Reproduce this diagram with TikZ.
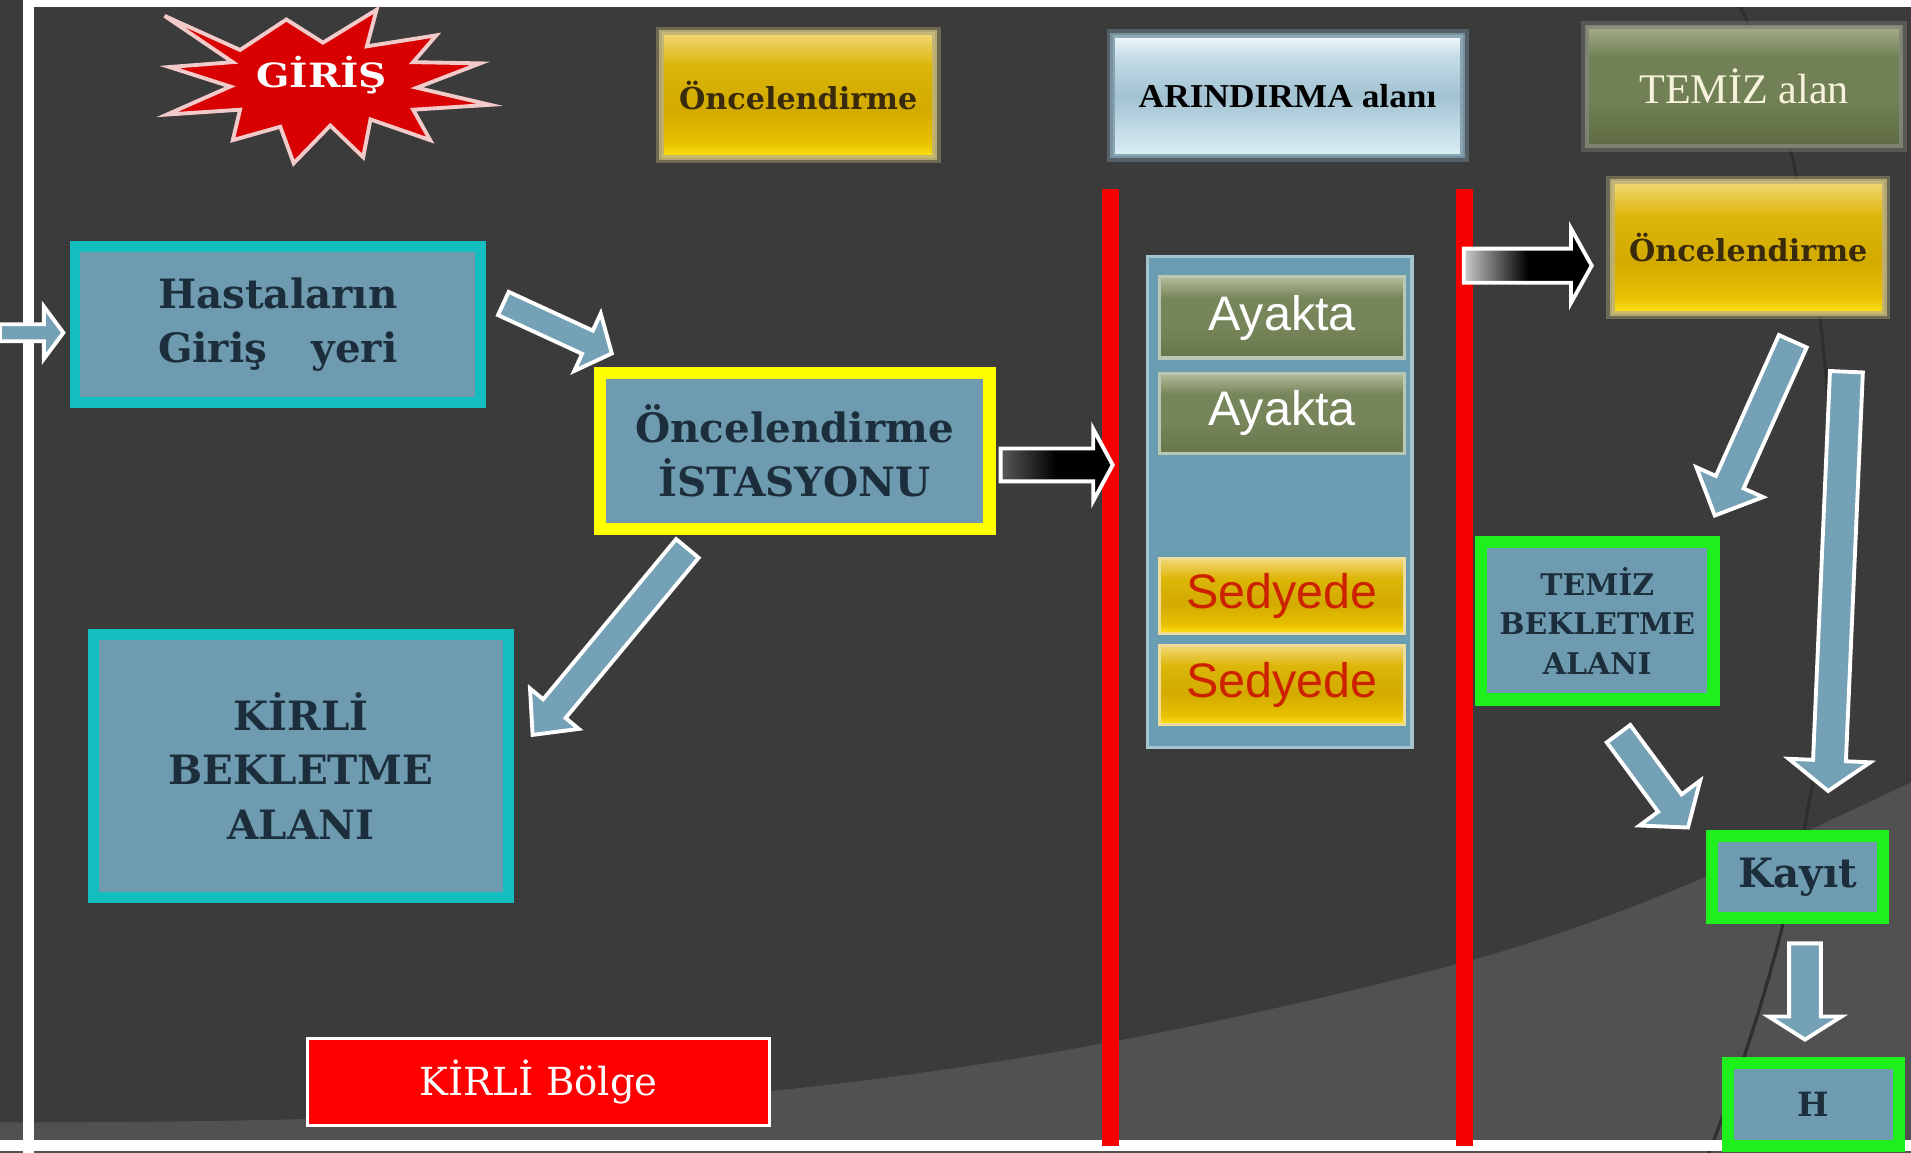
\documentclass[tikz,border=0pt]{standalone}
\usepackage{fontspec}
\usetikzlibrary{calc}
\newfontfamily\slab{DejaVu Serif}
\newfontfamily\arinf[FakeStretch=1.06]{Liberation Serif}
\newfontfamily\tnr{Liberation Serif}
\newfontfamily\arial{Liberation Sans}
\newfontfamily\girf[FakeStretch=1.17]{DejaVu Serif}
\newcommand\ovu{0.34678pt}

\definecolor{bgdark}{HTML}{3B3B3B}
\definecolor{bglight}{HTML}{515151}
\definecolor{arccol}{HTML}{2E2E2E}
\definecolor{redline}{HTML}{F50000}
\definecolor{steel}{HTML}{6E9BAF}
\definecolor{navy}{HTML}{1C2E3C}
\definecolor{cyanb}{HTML}{14BEBE}
\definecolor{yelb}{HTML}{FFFF00}
\definecolor{greenb}{HTML}{1EF01E}
\definecolor{arrowblue}{HTML}{74A1B5}
\definecolor{starred}{HTML}{D80000}
\definecolor{starrim}{HTML}{F2CACA}
\definecolor{gT}{HTML}{F2D878}
\definecolor{gU}{HTML}{DDB60A}
\definecolor{gM}{HTML}{D2AA00}
\definecolor{gL}{HTML}{E8C000}
\definecolor{gB}{HTML}{FFE41A}
\definecolor{oT}{HTML}{A3AC8A}
\definecolor{oM}{HTML}{728155}
\definecolor{oB}{HTML}{5E6B42}
\definecolor{yT}{HTML}{B3BC9B}
\definecolor{yM}{HTML}{76855A}
\definecolor{yB}{HTML}{67764B}
\definecolor{aT}{HTML}{F2FAFD}
\definecolor{aU}{HTML}{C4DCE7}
\definecolor{aM}{HTML}{A2C2D2}
\definecolor{aB}{HTML}{DCEFF6}
\definecolor{panelc}{HTML}{6A9DB2}
\definecolor{panelrim}{HTML}{A4C4D0}
\definecolor{glowy}{HTML}{BFB27A}
\definecolor{glowb}{HTML}{7E9BA8}
\definecolor{glowo}{HTML}{85887A}
\definecolor{ayrim}{HTML}{B8C8B4}
\definecolor{sedrim}{HTML}{EEDC9A}
\definecolor{sedred}{HTML}{CC2200}
\definecolor{cream}{HTML}{F6F2DC}
\definecolor{gtext}{HTML}{3A2A0C}
\definecolor{kred}{HTML}{FF0000}

\pgfdeclareverticalshading{goldsh}{100bp}{color(0bp)=(gB); color(25bp)=(gB); color(31bp)=(gL); color(45bp)=(gM); color(62bp)=(gU); color(75bp)=(gT); color(100bp)=(gT)}
\pgfdeclareverticalshading{olivesh}{100bp}{color(0bp)=(oB); color(25bp)=(oB); color(45bp)=(oM); color(62bp)=(oM); color(75bp)=(oT); color(100bp)=(oT)}
\pgfdeclareverticalshading{aysh}{100bp}{color(0bp)=(yB); color(25bp)=(yB); color(45bp)=(yM); color(62bp)=(yM); color(75bp)=(yT); color(100bp)=(yT)}
\pgfdeclareverticalshading{arinsh}{100bp}{color(0bp)=(aB); color(25bp)=(aB); color(50bp)=(aM); color(66bp)=(aU); color(75bp)=(aT); color(100bp)=(aT)}

% block arrow: [style]{tail}{tip}{shaft width}{head width}{head length}  (widths in picture units)
\newcommand\blockarrow[6][]{%
  \pgfmathsetlengthmacro\baw{#4*0.5*\ovu}%
  \pgfmathsetlengthmacro\bah{#5*0.5*\ovu}%
  \pgfmathsetlengthmacro\bal{#6*\ovu}%
  \coordinate (bac) at ($(#3)!\bal!(#2)$);%
  \path[#1] ($(#2)!\baw!90:(#3)$) -- ($(bac)!\baw!90:(#3)$) -- ($(bac)!\bah!90:(#3)$)
    -- (#3) -- ($(bac)!\bah!-90:(#3)$) -- ($(bac)!\baw!-90:(#3)$) -- ($(#2)!\baw!-90:(#3)$) -- cycle;%
}

\begin{document}
\begin{tikzpicture}[x=0.012188cm, y=-0.012188cm,
  sz/.style n args={3}{minimum width={(#1-#3)*\ovu}, minimum height={(#2-#3)*\ovu}, line width={#3*\ovu}},
  steelbox/.style={fill=steel, text=navy, align=center, inner sep=0pt},
  bigslab/.style={font=\slab\bfseries\fontsize{11.5}{15.5}\selectfont},
  goldtxt/.style={text=gtext, font=\slab\bfseries\fontsize{8.6}{10}\selectfont},
  barrow/.style={fill=arrowblue, draw=white, line width=1.1pt, line join=miter},
  blackarrow/.style={left color=#1, right color=black, middle color=black, draw=white, line width=1.1pt, line join=miter},
  glowbox/.style={inner sep=0pt, align=center, preaction={draw=#1, draw opacity=0.4, line width=10*\ovu}, draw=#1, draw opacity=0.85},
]
\useasboundingbox (0,0) rectangle (1568,946);
% background
\fill[bgdark] (0,0) rectangle (1568,946);
\fill[bglight] (0,921) .. controls (500,921) and (800,895) .. (1207,788)
  .. controls (1350,748) and (1450,697) .. (1568,642) -- (1568,946) -- (0,946) -- cycle;
\draw[arccol, line width=0.9pt] (1428,6) .. controls (1500,150) and (1525,450) .. (1483,666) .. controls (1462,780) and (1432,870) .. (1402,946);
% frame
\fill[white] (19,0) rectangle (28,946);
\fill[white] (19,0) rectangle (1568,6);
\fill[white] (0,935) rectangle (1568,944);
% red lines
\fill[redline] (904,155) rectangle (918,940);
\fill[redline] (1195,155) rectangle (1209,940);

% star
\filldraw[fill=starred, draw=starrim, line width=1.1pt, line join=miter]
  (135,13) -- (197,41) -- (235,16) -- (265,35) -- (309,8) -- (301,38) -- (358,29) -- (339,51)
  -- (394,52) -- (342,72) -- (402,86) -- (339,90) -- (353,115) -- (304,98) -- (298,129)
  -- (271,103) -- (241,134) -- (230,104) -- (191,115) -- (197,90) -- (137,94) -- (189,71)
  -- (139,55) -- (191,51) -- cycle;
\node[text=white, font=\girf\bfseries\fontsize{9.5}{11}\selectfont] (giris) at (264,62) {GİRİŞ};

% top labels
\node[glowbox=glowy, shade, shading=goldsh, sz={224}{102}{0}, line width=4*\ovu, goldtxt] (onc1) at (655,78) {Öncelendirme};
\node[glowbox=glowb, shade, shading=arinsh, sz={287}{99}{0}, line width=4*\ovu, text=black,
  font=\arinf\bfseries\fontsize{9.5}{11}\selectfont] (arin) at (1056.5,78.5) {ARINDIRMA alanı};
\node[glowbox=glowo, shade, shading=olivesh, sz={258}{98}{0}, line width=3*\ovu, text=cream,
  font=\tnr\fontsize{12}{14}\selectfont] (temiz) at (1431,71) {TEMİZ alan};
\node[glowbox=glowy, shade, shading=goldsh, sz={223}{108}{0}, line width=4*\ovu, goldtxt] (onc2) at (1434.5,203) {Öncelendirme};

% main boxes
\node[steelbox, bigslab, draw=cyanb, sz={342}{137}{9}] (hasta) at (228,266.5) {Hastaların\\Giriş\hspace{1.1em}yeri};
\node[steelbox, bigslab, draw=yelb, sz={330}{138}{10}] (ist) at (652,370) {Öncelendirme\\İSTASYONU};
\node[steelbox, bigslab, draw=cyanb, sz={350}{225}{9}] (kirli) at (247,628.5) {KİRLİ\\BEKLETME\\ALANI};
\node[steelbox, draw=greenb, sz={201}{139}{10}, font=\slab\bfseries\fontsize{8.5}{11.2}\selectfont] (temizb) at (1310.5,509.5) {TEMİZ\\BEKLETME\\ALANI};
\node[steelbox, bigslab, draw=greenb, sz={150}{77}{10}] (kayit) at (1475,719.5) {Kayıt};
\node[steelbox, draw=greenb, sz={150}{78}{10}, font=\slab\bfseries\fontsize{9.5}{11}\selectfont] (hbox) at (1488,906) {H};
\node[fill=kred, draw=white, sz={382}{74}{2.5}, text=white, inner sep=0pt,
  font=\slab\fontsize{11}{13}\selectfont] (kbolge) at (442,888) {KİRLİ Bölge};

% middle panel
\node[fill=panelc, draw=panelrim, sz={220}{406}{3}] (panel) at (1050,412) {};
\node[shade, shading=aysh, draw=ayrim, sz={204}{69}{2.5}, text=white, inner sep=0pt,
  font=\arial\fontsize{13.8}{16}\selectfont] (ay1) at (1052,260.5) {Ayakta};
\node[shade, shading=aysh, draw=ayrim, sz={204}{68}{2.5}, text=white, inner sep=0pt,
  font=\arial\fontsize{13.8}{16}\selectfont] (ay2) at (1052,339) {Ayakta};
\node[shade, shading=goldsh, draw=sedrim, sz={204}{64}{2.5}, text=sedred, inner sep=0pt,
  font=\arial\fontsize{13.8}{16}\selectfont] (se1) at (1052,489) {Sedyede};
\node[shade, shading=goldsh, draw=sedrim, sz={204}{68}{2.5}, text=sedred, inner sep=0pt,
  font=\arial\fontsize{13.8}{16}\selectfont] (se2) at (1052,562) {Sedyede};

% arrow end points
\coordinate (a0s) at (0,273);      \coordinate (a0e) at (52,273);
\coordinate (a1s) at (413,249);    \coordinate (a1e) at (502,290);
\coordinate (a2s) at (564,450);    \coordinate (a2e) at (437,603);
\coordinate (a3s) at (821,381.5);  \coordinate (a3e) at (913,381.5);
\coordinate (a4s) at (1201,218);   \coordinate (a4e) at (1306,218);
\coordinate (a5s) at (1471,280);   \coordinate (a5e) at (1407,423);
\coordinate (a6s) at (1515,305);   \coordinate (a6e) at (1500,649);
\coordinate (a7s) at (1328,602);   \coordinate (a7e) at (1385,679);
\coordinate (a8s) at (1481,774);   \coordinate (a8e) at (1481,853);

\blockarrow[barrow]{a0s}{a0e}{14}{43}{16}
\blockarrow[barrow]{a1s}{a1e}{21}{52}{22}
\blockarrow[barrow]{a2s}{a2e}{24}{52}{28}
\blockarrow[blackarrow=black!65!white]{a3s}{a3e}{27}{59}{16}
\blockarrow[blackarrow=white!80!black]{a4s}{a4e}{28}{61}{17}
\blockarrow[barrow]{a5s}{a5e}{25}{60}{30}
\blockarrow[barrow]{a6s}{a6e}{27}{67}{25}
\blockarrow[barrow]{a7s}{a7e}{24}{62}{25}
\blockarrow[barrow]{a8s}{a8e}{26}{60}{19}
\end{tikzpicture}
\end{document}
